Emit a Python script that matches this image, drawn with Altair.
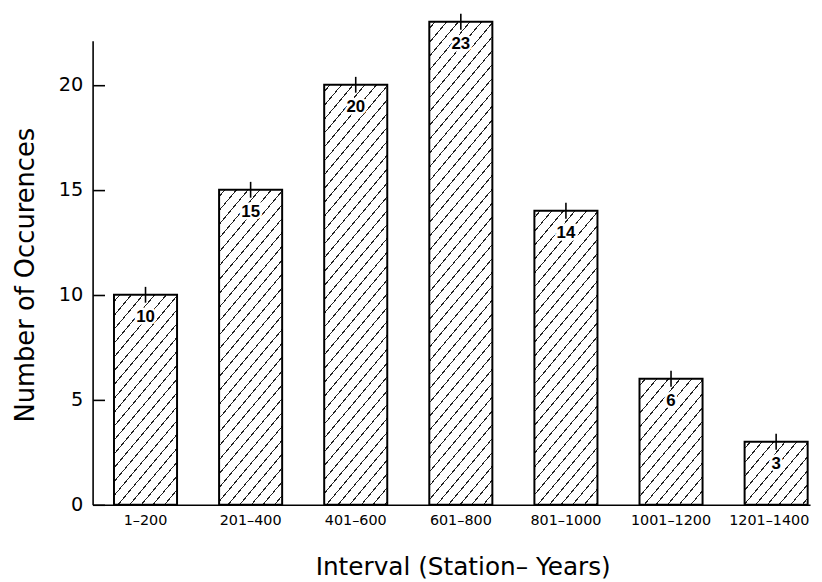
import math
import altair as alt
import pandas as pd

# ---- data ----
intervals = ["1–200", "201–400", "401–600", "601–800", "801–1000", "1001–1200", "1201–1400"]
counts = [10, 15, 20, 23, 14, 6, 3]
y_ticks = [0, 5, 10, 15, 20]

df = pd.DataFrame({"interval": intervals, "count": counts})

# ---- layout ----
W, H = 725, 469
Y_MAX = 22.1
PAD_IN, PAD_OUT, ALIGN = 0.4, 0.113, 0.9
step = W / (len(intervals) - PAD_IN + 2 * PAD_OUT)
bar_w = step * (1 - PAD_IN)
ppu = H / Y_MAX
FONT = "DejaVu Sans"
TICK_IN = 12  # inward tick length on the y axis


def hatch(h_px, w_px, angle=50.0, perp=9.0, lw=1.0, color="#222222"):
    """'/' hatching as a hard-stop linear gradient in objectBoundingBox units,
    corrected for the bar's aspect ratio so all bars share one pixel angle/spacing."""
    th = math.radians(angle)
    a, b = math.cos(th), math.sin(th)
    nx, ny = b / h_px, a / w_px
    k = (nx + ny) / (nx * nx + ny * ny)
    D = b * w_px + a * h_px
    stops = [{"offset": 0, "color": "white"}]
    c = perp * 0.5
    while c < D:
        t0 = max(0.0, (c - lw / 2) / D)
        t1 = min(1.0, (c + lw / 2) / D)
        stops += [
            {"offset": t0, "color": "white"},
            {"offset": t0, "color": color},
            {"offset": t1, "color": color},
            {"offset": t1, "color": "white"},
        ]
        c += perp
    stops.append({"offset": 1, "color": "white"})
    return {"gradient": "linear", "x1": 0, "y1": 0, "x2": k * nx, "y2": k * ny, "stops": stops}


last = intervals[-1]
y_scale = alt.Scale(domain=[0, Y_MAX], nice=False, zero=True)
x_enc = alt.X(
    "interval:N",
    sort=intervals,
    scale=alt.Scale(domain=intervals, paddingInner=PAD_IN, paddingOuter=PAD_OUT,
                    align=ALIGN, round=False),
    axis=alt.Axis(
        title="Interval (Station– Years)",
        labelAngle=0,
        labelFont=FONT,
        labelFontSize=14.5,
        labelColor="black",
        labelPadding=9,
        labelOffset={"condition": {"test": f"datum.value === '{last}'", "value": -7}, "value": 0},
        ticks=False,
        domainColor="black",
        domainWidth=1.6,
        titleFont=FONT,
        titleFontSize=25,
        titleFontWeight="normal",
        titleColor="black",
        titleBaseline="alphabetic",
        titleX=374,
        titleY=70,
    ),
)
y_enc = alt.Y(
    "count:Q",
    scale=y_scale,
    axis=alt.Axis(
        title="Number of Occurences",
        values=y_ticks,
        grid=False,
        ticks=True,
        tickSize=alt.ExprRef(expr=f"-{TICK_IN}"),  # negative => ticks point into the plot
        tickWidth=1.6,
        tickColor="black",
        labelFont=FONT,
        labelFontSize=19.5,
        labelColor="black",
        labelPadding=10 + TICK_IN,
        domainColor="black",
        domainWidth=1.6,
        titleFont=FONT,
        titleFontSize=26,
        titleFontWeight="normal",
        titleColor="black",
        titleBaseline="alphabetic",
        titleAlign="center",
        titleAngle=270,
        titleX=-60,
        titleY=H / 2 + 2,
    ),
)

layers = []
for cat, val in zip(intervals, counts):
    grad = hatch(val * ppu, bar_w)
    layers.append(
        alt.Chart(df)
        .transform_filter(alt.datum.interval == cat)
        .mark_bar(fill=grad, stroke="black", strokeWidth=2, clip=False)
        .encode(x=x_enc, y=y_enc)
    )

halo = alt.Chart(df).mark_text(
    dy=23, font="Liberation Sans", fontSize=17, fontWeight="bold",
    color="white", stroke="white", strokeWidth=5, baseline="middle",
).encode(x=x_enc, y=y_enc, text="count:Q")

labels = alt.Chart(df).mark_text(
    dy=23, font="Liberation Sans", fontSize=17, fontWeight="bold",
    color="black", baseline="middle",
).encode(x=x_enc, y=y_enc, text="count:Q")

bar_ticks = alt.Chart(df).mark_rule(
    color="black", strokeWidth=1.6, yOffset=-8, y2Offset=8
).encode(x=x_enc, y=y_enc, y2="count:Q")

chart = (
    alt.layer(*layers, halo, labels, bar_ticks)
    .properties(
        width=W,
        height=H,
        padding={"left": 85.5, "top": 30, "right": 4, "bottom": 74},
        autosize=alt.AutoSizeParams(type="none"),
        background="white",
    )
    .configure_view(stroke=None)
)

chart.save("out.html", embed_options={"renderer": "svg", "actions": False})
